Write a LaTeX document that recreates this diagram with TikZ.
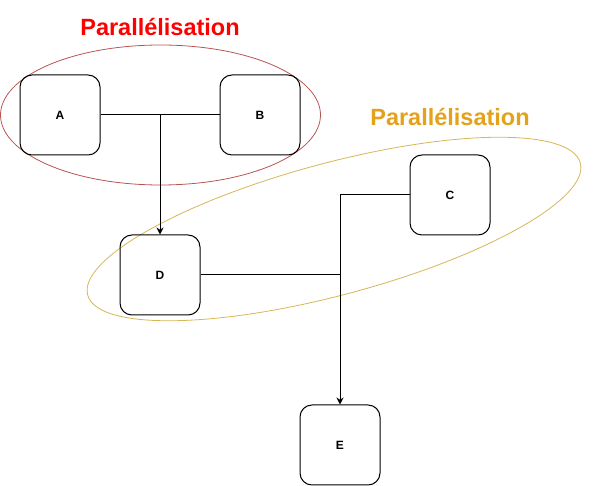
\documentclass[tikz,border=0pt]{standalone}
\usepackage{fontspec}
\setmainfont{Liberation Sans}
\usetikzlibrary{shapes.geometric, arrows.meta}

\definecolor{groupred}{HTML}{B85450}
\definecolor{groupgold}{HTML}{D6B656}
\definecolor{titlegold}{HTML}{E3A21A}

\tikzset{
  task/.style={draw, line width=1pt, rounded corners=12pt, minimum width=80pt, minimum height=80pt, inner sep=0pt, font=\fontsize{12}{14}\selectfont\bfseries},
  group/.style={draw, ellipse, line width=0.8pt, inner sep=0pt},
  flow/.style={line width=1pt},
  flowarrow/.style={line width=1pt, -{Stealth[length=7pt, width=7pt]}},
  grouptitle/.style={font=\fontsize{23.5}{26}\selectfont\bfseries}
}

\begin{document}
\begin{tikzpicture}[x=1pt, y=-1pt]
\useasboundingbox (0,0) rectangle (598,486);

\node[group, groupred, minimum width=320pt, minimum height=140pt] (grpab) at (160.5,115) {};
\node[group, groupgold, minimum width=510pt, minimum height=132pt, rotate=15] (grpcd) at (334,229) {};

\node[grouptitle, text=red] (titleab) at (160,27) {Parallélisation};
\node[grouptitle, text=titlegold] (titlecd) at (450,117) {Parallélisation};

\node[task] (A) at (60,115) {A};
\node[task] (B) at (260,115) {B};
\node[task] (C) at (450,195) {C};
\node[task] (D) at (160,275) {D};
\node[task] (E) at (340,445) {E};

\draw[flow] (A) -- (B);
\draw[flowarrow] (A -| D) -- (D);
\draw[flowarrow] (C) -| (E);
\draw[flow] (D) -- (D -| E);

\end{tikzpicture}
\end{document}
